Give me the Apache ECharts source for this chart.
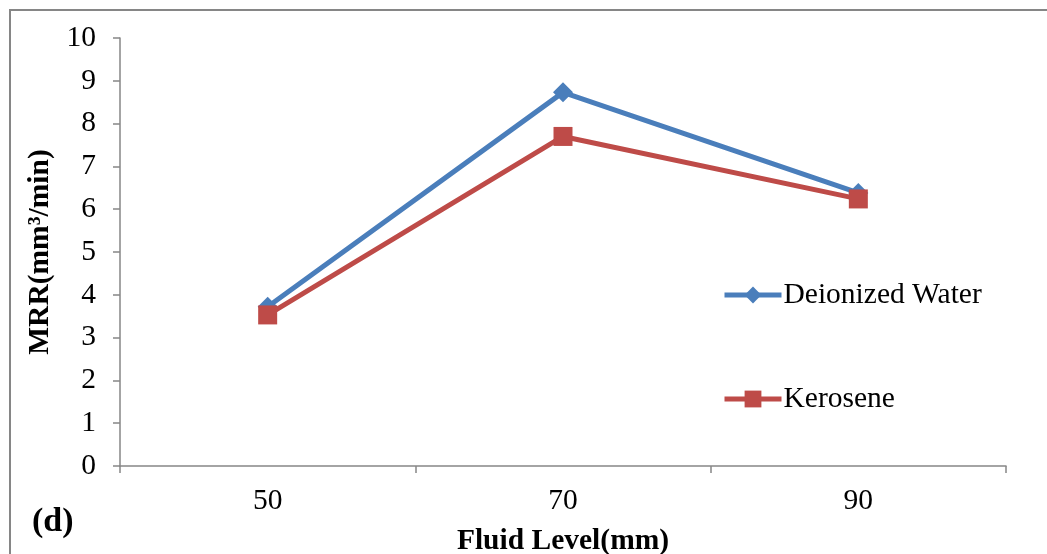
<!DOCTYPE html>
<html>
<head>
<meta charset="utf-8">
<style>
  html, body { margin: 0; padding: 0; background: #ffffff; }
  #chart { width: 1047px; height: 554px; }
</style>
<script src="https://cdn.jsdelivr.net/npm/echarts@6/dist/echarts.min.js"></script>
</head>
<body>
<div id="chart"></div>
<script>
// Fluid level settings (mm)
const fluidLevels = ['50', '70', '90'];
// Material removal rate (mm³/min) per dielectric
const deionizedWater = [3.72, 8.73, 6.38];
const kerosene = [3.53, 7.70, 6.24];
const yTicks = [0, 1, 2, 3, 4, 5, 6, 7, 8, 9, 10];

const FONT = "'Liberation Serif', 'Times New Roman', serif";
const AXIS_GRAY = '#868686';
const BLUE = '#4A7EBB';
const RED = '#BE4B48';
const FS = 29.5;

const chart = echarts.init(document.getElementById('chart'), null, { renderer: 'canvas' });

const legendBase = {
  left: 717,
  itemWidth: 57, itemHeight: 21, itemGap: 0,
  lineStyle: { width: 5 },
  textStyle: { fontFamily: FONT, fontSize: FS, color: '#000', padding: [0, 0, 0, -3] }
};

chart.setOption({
  animation: false,
  backgroundColor: '#ffffff',
  grid: { left: 120, top: 38, right: 41, bottom: 88, containLabel: false, outerBoundsMode: 'none' },
  legend: [
    Object.assign({ data: ['Deionized Water'], top: 275 }, legendBase),
    Object.assign({ data: ['Kerosene'], top: 379 }, legendBase)
  ],
  xAxis: {
    type: 'category',
    data: fluidLevels,
    boundaryGap: true,
    name: 'Fluid Level(mm)',
    nameLocation: 'middle',
    nameGap: 60,
    nameTextStyle: { fontFamily: FONT, fontSize: FS, fontWeight: 'bold', color: '#000' },
    axisLine: { lineStyle: { color: AXIS_GRAY, width: 1.5 } },
    axisTick: { show: true, length: 7, lineStyle: { color: AXIS_GRAY, width: 1.5 } },
    axisLabel: { fontFamily: FONT, fontSize: FS, color: '#000', margin: 20 },
    splitLine: { show: false }
  },
  yAxis: {
    type: 'value',
    min: yTicks[0],
    max: yTicks[yTicks.length - 1],
    interval: 1,
    name: 'MRR(mm³/min)',
    nameLocation: 'middle',
    nameRotate: 90,
    nameGap: 55,
    nameTextStyle: { fontFamily: FONT, fontSize: FS, fontWeight: 'bold', color: '#000' },
    axisLine: { show: true, lineStyle: { color: AXIS_GRAY, width: 1.5 } },
    axisTick: { show: true, length: 7, lineStyle: { color: AXIS_GRAY, width: 1.5 } },
    axisLabel: { fontFamily: FONT, fontSize: FS, color: '#000', margin: 24 },
    splitLine: { show: false }
  },
  graphic: [
    {
      type: 'rect',
      shape: { x: 10, y: 10, width: 1100, height: 600 },
      style: { fill: 'none', stroke: AXIS_GRAY, lineWidth: 2 },
      silent: true
    },
    {
      type: 'text',
      left: 32, top: 505,
      style: { text: '(d)', font: 'bold 34px ' + FONT, fill: '#000' }
    }
  ],
  series: [
    {
      name: 'Deionized Water',
      type: 'line',
      data: deionizedWater,
      symbol: 'diamond',
      symbolSize: 20,
      lineStyle: { color: BLUE, width: 5 },
      itemStyle: { color: BLUE },
      z: 2
    },
    {
      name: 'Kerosene',
      type: 'line',
      data: kerosene,
      symbol: 'rect',
      symbolSize: 19,
      lineStyle: { color: RED, width: 5 },
      itemStyle: { color: RED },
      z: 3
    }
  ]
});
</script>
</body>
</html>
